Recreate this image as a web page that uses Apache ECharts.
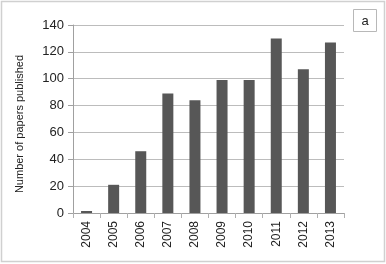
<!DOCTYPE html>
<html>
<head>
<meta charset="utf-8">
<script src="https://cdn.jsdelivr.net/npm/echarts@6/dist/echarts.min.js"></script>
<style>
  html, body { margin: 0; padding: 0; background: #fff; }
  #chart { width: 386px; height: 264px; }
</style>
</head>
<body>
<div id="chart"></div>
<script>
// 数据
const years = ['2004', '2005', '2006', '2007', '2008', '2009', '2010', '2011', '2012', '2013'];
const papers = [1.5, 21, 46, 89, 84, 99, 99, 130, 107, 127];
const yTicks = [0, 20, 40, 60, 80, 100, 120, 140];

const font = '"Liberation Sans Narrow", "Liberation Sans", Arial, sans-serif';
const chart = echarts.init(document.getElementById('chart'));

chart.setOption({
  animation: false,
  graphic: [
    {
      type: 'rect',
      shape: { x: 1.5, y: 1.5, width: 383, height: 260 },
      style: { fill: 'none', stroke: '#d0d0d0', lineWidth: 1.5 }
    },
    {
      type: 'rect',
      shape: { x: 353.5, y: 9.5, width: 23, height: 22 },
      style: { fill: '#fff', stroke: '#b8b8b8', lineWidth: 1 }
    },
    {
      type: 'text',
      x: 365, y: 21,
      style: {
        text: 'a', font: '13px ' + font, fill: '#222',
        align: 'center', verticalAlign: 'middle'
      }
    }
  ],
  grid: { left: 73, right: 42, top: 25, bottom: 51 },
  xAxis: {
    type: 'category',
    data: years,
    axisLine: { lineStyle: { color: '#a0a0a0' } },
    axisTick: { show: true, length: 5, lineStyle: { color: '#b0b0b0' } },
    axisLabel: {
      rotate: 90, margin: 8, color: '#222',
      fontFamily: font, fontSize: 12
    }
  },
  yAxis: {
    type: 'value',
    min: yTicks[0],
    max: yTicks[yTicks.length - 1],
    interval: 20,
    name: 'Number of papers published',
    nameLocation: 'middle',
    nameGap: 48,
    nameTextStyle: {
      color: '#222', fontFamily: font, fontSize: 11,
      padding: [0, 10, 0, 0]
    },
    axisLine: { show: true, lineStyle: { color: '#a0a0a0' } },
    axisTick: { show: true, length: 5, lineStyle: { color: '#a0a0a0' } },
    axisLabel: { color: '#222', fontFamily: font, fontSize: 13, margin: 9 },
    splitLine: { lineStyle: { color: '#bcbcbc' } }
  },
  series: [{
    type: 'bar',
    data: papers,
    barWidth: 11,
    itemStyle: { color: '#575757' }
  }]
});
</script>
</body>
</html>
